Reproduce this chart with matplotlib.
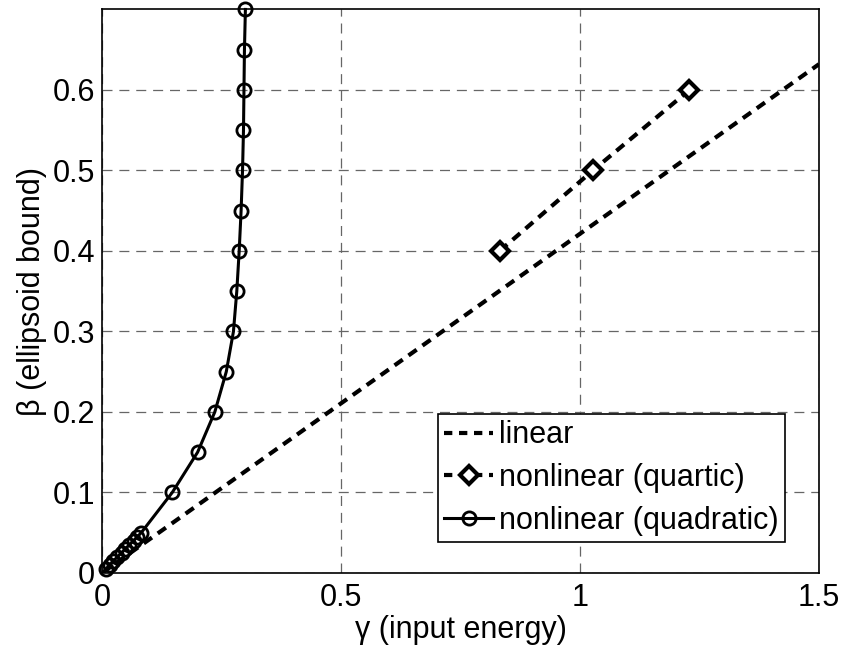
import matplotlib.pyplot as plt

plt.rcParams['font.family'] = ['Liberation Sans', 'DejaVu Sans']

# cota del elipsoide (beta) frente a la energía de entrada (gamma)
linear_gamma = [0.0, 1.5]
linear_beta = [0.0, 0.632]

quartic_gamma = [0.832, 1.027, 1.229]
quartic_beta = [0.4, 0.5, 0.6]

quadratic_gamma = [0.008, 0.016, 0.024, 0.032, 0.041, 0.049, 0.057, 0.066,
                   0.074, 0.082, 0.147, 0.200, 0.236, 0.260, 0.275, 0.282,
                   0.287, 0.291, 0.294, 0.296, 0.297, 0.298, 0.300]
quadratic_beta = [0.005, 0.01, 0.015, 0.02, 0.025, 0.03, 0.035, 0.04,
                  0.045, 0.05, 0.1, 0.15, 0.2, 0.25, 0.3, 0.35,
                  0.4, 0.45, 0.5, 0.55, 0.6, 0.65, 0.7]

xticks = [0, 0.5, 1, 1.5]
xticklabels = ['0', '0.5', '1', '1.5']
yticks = [0, 0.1, 0.2, 0.3, 0.4, 0.5, 0.6]
yticklabels = ['0', '0.1', '0.2', '0.3', '0.4', '0.5', '0.6']

fig = plt.figure(figsize=(8.43, 6.47), dpi=100)
ax = fig.add_axes([0.121, 0.1144, 0.8505, 0.871])

dash = (0, (2.4, 1.7))
ax.plot(linear_gamma, linear_beta, color='k', lw=3, linestyle=dash,
        label='linear')
ax.plot(quartic_gamma, quartic_beta, color='k', lw=3, linestyle=dash,
        marker='D', ms=9, mew=3, mfc='white', mec='k',
        label='nonlinear (quartic)')
ax.plot(quadratic_gamma, quadratic_beta, color='k', lw=2.2, linestyle='-',
        marker='o', ms=9.5, mew=2, mfc='none', mec='k', clip_on=False,
        label='nonlinear (quadratic)')

ax.set_xlim(0, 1.5)
ax.set_ylim(0, 0.7)
ax.set_xticks(xticks)
ax.set_xticklabels(xticklabels)
ax.set_yticks(yticks)
ax.set_yticklabels(yticklabels)
ax.tick_params(length=0, labelsize=22)
ax.tick_params(axis='x', pad=7)
ax.tick_params(axis='y', pad=5)

ax.grid(True, color='0.4', lw=0.9, linestyle=(0, (8, 5.5)))
ax.set_axisbelow(True)
for s in ax.spines.values():
    s.set_linewidth(1.2)
    s.set_color('k')

ax.set_xlabel('γ (input energy)', fontsize=22, labelpad=2)
ax.set_ylabel('β (ellipsoid bound)', fontsize=22, labelpad=4)

leg = ax.legend(loc='lower right', bbox_to_anchor=(0.9526, 0.055),
                borderaxespad=0, fontsize=22, handlelength=1.6,
                handletextpad=0.2, labelspacing=0.42, borderpad=0.2,
                fancybox=False, framealpha=1, edgecolor='k')
leg.get_frame().set_linewidth(1.2)
for h in leg.get_lines():
    h.set_linestyle((0, (2.0, 1.6)))
leg.get_lines()[2].set_linestyle('-')

fig.savefig('out.png', dpi=100)
